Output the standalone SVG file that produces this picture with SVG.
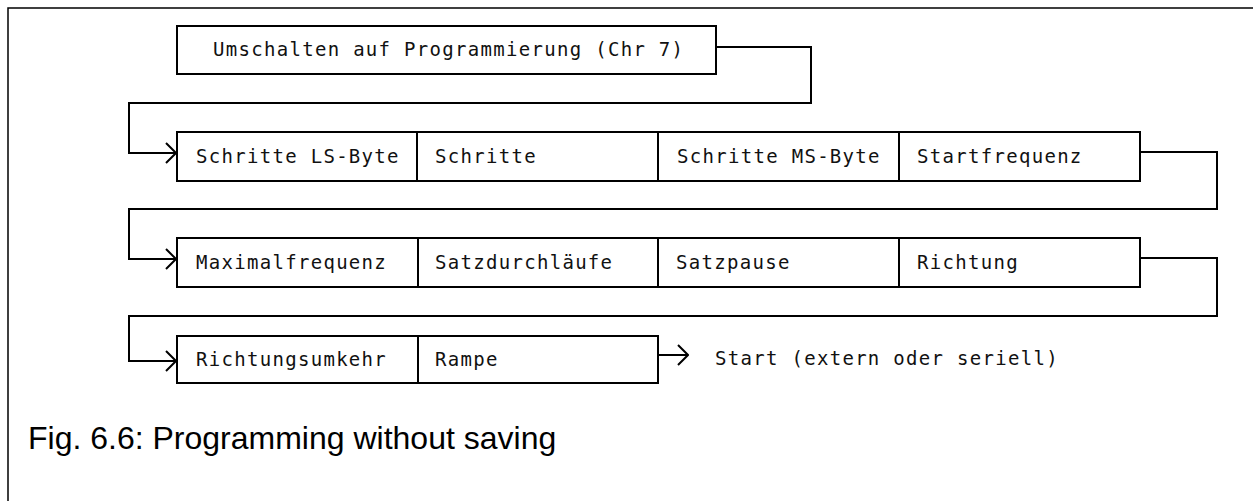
<svg xmlns="http://www.w3.org/2000/svg" width="1253" height="501" viewBox="0 0 1253 501">
<style>
.box{fill:#fff;stroke:#000;stroke-width:2}
.div{stroke:#000;stroke-width:2}
.lbl{font-family:"DejaVu Sans Mono","Liberation Mono",monospace;font-size:19px;letter-spacing:1.3px;fill:#111}
.con{fill:none;stroke:#000;stroke-width:2}
.cap{font-family:"Liberation Sans",Arial,sans-serif;font-size:32px;fill:#000}
</style>
<defs>
<marker id="arr" markerWidth="12" markerHeight="24" refX="11" refY="12" orient="auto" markerUnits="userSpaceOnUse">
<path d="M1,2 L11,12 L1,22" fill="none" stroke="#000" stroke-width="2"/>
</marker>
</defs>
<rect width="1253" height="501" fill="#fff"/>
<path d="M8,501 V8 H1253" fill="none" stroke="#000" stroke-width="1.5"/>
<g id="n0">
<rect class="box" x="177" y="26" width="539" height="48"/>
<text class="lbl" x="213" y="56">Umschalten auf Programmierung (Chr 7)</text>
</g>
<g id="row1">
<rect class="box" x="177" y="132" width="963" height="49"/>
<line class="div" x1="417" y1="132" x2="417" y2="181"/>
<line class="div" x1="658" y1="132" x2="658" y2="181"/>
<line class="div" x1="899" y1="132" x2="899" y2="181"/>
<text class="lbl" x="196" y="163">Schritte LS-Byte</text>
<text class="lbl" x="435" y="163">Schritte</text>
<text class="lbl" x="677" y="163">Schritte MS-Byte</text>
<text class="lbl" x="917" y="163">Startfrequenz</text>
</g>
<g id="row2">
<rect class="box" x="177" y="238" width="963" height="49"/>
<line class="div" x1="418" y1="238" x2="418" y2="287"/>
<line class="div" x1="658" y1="238" x2="658" y2="287"/>
<line class="div" x1="899" y1="238" x2="899" y2="287"/>
<text class="lbl" x="196" y="269">Maximalfrequenz</text>
<text class="lbl" x="435" y="269">Satzdurchläufe</text>
<text class="lbl" x="676" y="269">Satzpause</text>
<text class="lbl" x="917" y="269">Richtung</text>
</g>
<g id="row3">
<rect class="box" x="177" y="336" width="481" height="47"/>
<line class="div" x1="418" y1="336" x2="418" y2="383"/>
<text class="lbl" x="196" y="366">Richtungsumkehr</text>
<text class="lbl" x="435" y="366">Rampe</text>
</g>
<g id="end">
<text class="lbl" x="715" y="365">Start (extern oder seriell)</text>
</g>
<g id="connectors">
<path class="con" d="M716,47 H811 V103 H129 V153 H176" marker-end="url(#arr)"/>
<path class="con" d="M1140,152 H1217 V209 H129 V259 H176" marker-end="url(#arr)"/>
<path class="con" d="M1140,258 H1217 V316 H129 V361 H176" marker-end="url(#arr)"/>
<path class="con" d="M658,355 H688" marker-end="url(#arr)"/>
</g>
<text class="cap" x="28" y="449">Fig. 6.6: Programming without saving</text>
</svg>
